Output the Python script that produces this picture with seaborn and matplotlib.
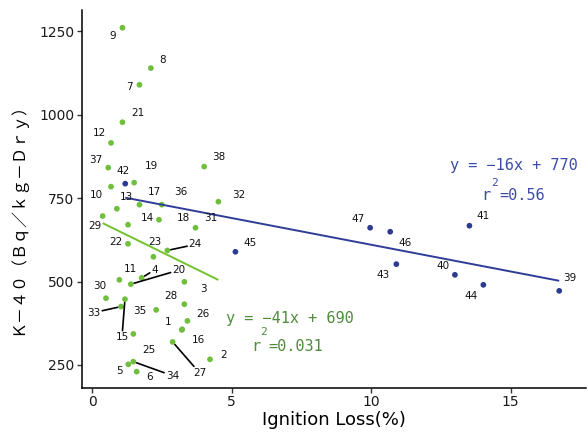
import numpy as np
import pandas as pd
import matplotlib
matplotlib.use("Agg")
import matplotlib.pyplot as plt
import seaborn as sns

# ---- data -------------------------------------------------------------
sample_id = list(range(1, 48))
ignition_loss = [3.21, 4.22, 3.30, 1.77, 1.29, 1.59, 1.69, 2.10, 1.08, 0.67,
                 0.97, 0.67, 0.88, 1.28, 1.17, 3.22, 1.69, 2.39, 1.50, 1.38,
                 1.08, 1.28, 2.19, 2.69, 1.47, 3.41, 2.88, 3.30, 0.37, 0.49,
                 3.70, 4.52, 1.03, 1.47, 2.29, 2.49, 0.57, 4.01,
                 16.74, 13.00, 13.52, 1.18, 10.90, 14.02, 5.13, 10.68, 9.96]
k40 = [355, 267, 499, 511, 252, 230, 1089, 1139, 1260, 784,
       505, 915, 718, 670, 447, 357, 730, 685, 796, 492,
       977, 613, 574, 593, 343, 382, 319, 432, 696, 450,
       661, 739, 425, 260, 415, 730, 841, 844,
       472, 520, 667, 793, 552, 490, 589, 649, 661]
group = ["g1"] * 38 + ["g2"] * 9

# fitted lines per group: slope, intercept, r squared
fit_slope = {"g1": -41, "g2": -16}
fit_intercept = {"g1": 690, "g2": 770}
fit_r2 = {"g1": "0.031", "g2": "0.56"}

x_ticks = [0, 5, 10, 15]
y_ticks = [250, 500, 750, 1000, 1250]

# ---- styling ----------------------------------------------------------
point_color = {"g1": "#6fbe3c", "g2": "#2c3b92"}
line_color = {"g1": "#72c22e", "g2": "#2f3d98"}
text_color = {"g1": "#4f8c3c", "g2": "#3d4ca6"}

# label offsets in pixels (right, up) from each point
label_offset = {
    1: (-14, 8), 2: (14, 4), 3: (19, -7), 4: (13, 8), 5: (-9, -7), 6: (13, -5),
    7: (-10, -2), 8: (12, 8), 9: (-10, -8), 10: (-15, -8), 11: (11, 11), 12: (-12, 10),
    13: (10, 12), 14: (19, 7), 15: (-3, -38), 16: (16, -11), 17: (15, 13), 18: (24, 2),
    19: (17, 17), 20: (48, 14), 21: (15, 9), 22: (-12, 2), 23: (1, 15), 24: (28, 6),
    25: (16, -16), 26: (15, 7), 27: (27, -31), 28: (-13, 8), 29: (-8, -10), 30: (-6, 12),
    31: (15, 10), 32: (20, 7), 33: (-27, -6), 34: (39, -14), 35: (-16, -1), 36: (19, 13),
    37: (-12, 8), 38: (15, 10),
    39: (11, 13), 40: (-12, 9), 41: (14, 10), 42: (-2, 13), 43: (-13, -11), 44: (-12, -11),
    45: (15, 9), 46: (15, -11), 47: (-12, 9),
}
with_segment = {4, 15, 20, 24, 27, 33, 34}

sns.set_theme(style="white")
plt.rcParams["font.family"] = ["DejaVu Sans"]

df = pd.DataFrame({"id": sample_id, "loss": ignition_loss, "k40": k40, "group": group})

fig = plt.figure(figsize=(5.88, 4.37), dpi=100)
ax = fig.add_axes([82 / 588, 1 - 387.7 / 437, (586 - 82) / 588, (387.7 - 10) / 437])

sns.scatterplot(data=df, x="loss", y="k40", hue="group", palette=point_color,
                s=17, linewidth=0, legend=False, ax=ax, zorder=2)

for g in ["g1", "g2"]:
    sub = df[df["group"] == g]
    xs = np.array([sub["loss"].min(), sub["loss"].max()])
    ys = fit_slope[g] * xs + fit_intercept[g]
    ax.plot(xs, ys, color=line_color[g], lw=1.4, zorder=3, solid_capstyle="butt")

for _, row in df.iterrows():
    dx, dy = label_offset[int(row["id"])]
    kw = {}
    if int(row["id"]) in with_segment:
        kw["arrowprops"] = dict(arrowstyle="-", color="black", lw=1.2,
                                shrinkA=0, shrinkB=2.5)
    ax.annotate(str(int(row["id"])), (row["loss"], row["k40"]),
                xytext=(dx, dy), textcoords="offset pixels",
                ha="center", va="center", fontsize=7.5, color="#111111",
                bbox=dict(boxstyle="square,pad=0.15", fc="none", ec="none"),
                zorder=4, **kw)

# regression equations
eq_font = ["DejaVu Sans Mono"]
eq_pos = {"g2": (12.84, 846, 13.93, 759, 14.41, 796, 14.58),
          "g1": (4.80, 390, 5.70, 305, 6.14, 350, 6.30)}
for g, (ex, ey, rx, ry, sx, sy, qx) in eq_pos.items():
    b = fit_intercept[g]
    ax.text(ex, ey, f"y = \u2212{abs(fit_slope[g])}x + {b}", family=eq_font,
            fontsize=11, color=text_color[g], ha="left", va="center")
    ax.text(rx, ry, "r", family=eq_font, fontsize=11, color=text_color[g],
            ha="left", va="center")
    ax.text(sx, sy, "2", family=eq_font, fontsize=8, color=text_color[g],
            ha="center", va="center")
    ax.text(qx, ry, "=" + fit_r2[g], family=eq_font,
            fontsize=11, color=text_color[g], ha="left", va="center")

ax.set_xlim(-0.37, 17.7)
ax.set_ylim(182, 1313)
ax.set_xticks(x_ticks)
ax.set_yticks(y_ticks)
sns.despine(ax=ax)
for s in ["left", "bottom"]:
    ax.spines[s].set_color("black")
    ax.spines[s].set_linewidth(1.1)
ax.tick_params(axis="both", length=3.6, width=1.0, color="#333333",
               labelsize=10, labelcolor="#1a1a1a", pad=2, left=True, bottom=True)
ax.set_xlabel("Ignition Loss(%)", fontsize=13, color="black", labelpad=1)
ax.set_ylabel("Ｋ－４０（Ｂｑ／ｋｇ－Ｄｒｙ）", fontsize=11.5, color="black",
              family=["Noto Sans CJK JP", "DejaVu Sans"])
ax.yaxis.set_label_coords(-0.111, 0.457)
ax.grid(False)

fig.savefig("out.png", dpi=100)
